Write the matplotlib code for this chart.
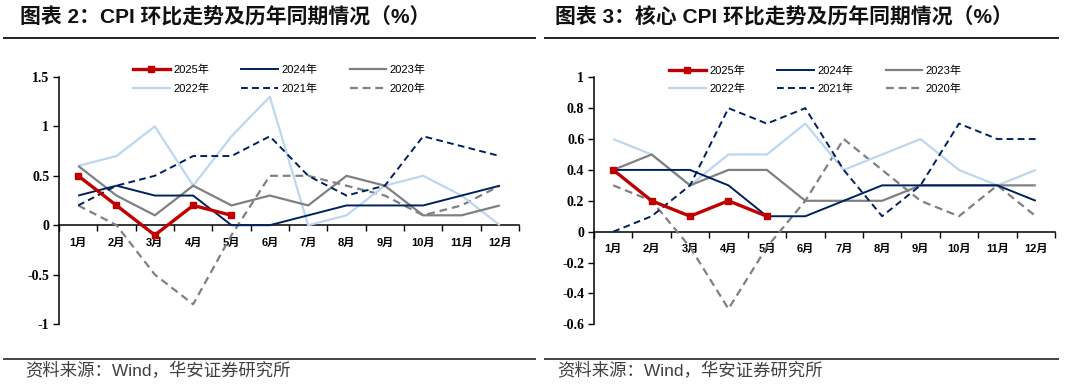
import matplotlib
matplotlib.use("Agg")
import matplotlib.pyplot as plt
from matplotlib.lines import Line2D

plt.rcParams["font.family"] = ["Liberation Sans", "Noto Sans CJK SC"]
plt.rcParams["axes.unicode_minus"] = False

MONTHS = ["1月", "2月", "3月", "4月", "5月", "6月", "7月", "8月", "9月", "10月", "11月", "12月"]
YEARS = ["2025年", "2024年", "2023年", "2022年", "2021年", "2020年"]

# 图表2：CPI 环比
cpi_2025 = [0.5, 0.2, -0.1, 0.2, 0.1]
cpi_2024 = [0.3, 0.4, 0.3, 0.3, 0.0, 0.0, 0.1, 0.2, 0.2, 0.2, 0.3, 0.4]
cpi_2023 = [0.6, 0.3, 0.1, 0.4, 0.2, 0.3, 0.2, 0.5, 0.4, 0.1, 0.1, 0.2]
cpi_2022 = [0.6, 0.7, 1.0, 0.4, 0.9, 1.3, 0.0, 0.1, 0.4, 0.5, 0.3, 0.0]
cpi_2021 = [0.2, 0.4, 0.5, 0.7, 0.7, 0.9, 0.5, 0.3, 0.4, 0.9, 0.8, 0.7]
cpi_2020 = [0.2, 0.0, -0.5, -0.8, -0.1, 0.5, 0.5, 0.4, 0.3, 0.1, 0.2, 0.4]
cpi_yticks = [-1, -0.5, 0, 0.5, 1, 1.5]
cpi_yticklabels = ["-1", "-0.5", "0", "0.5", "1", "1.5"]

# 图表3：核心 CPI 环比
core_2025 = [0.4, 0.2, 0.1, 0.2, 0.1]
core_2024 = [0.4, 0.4, 0.4, 0.3, 0.1, 0.1, 0.2, 0.3, 0.3, 0.3, 0.3, 0.2]
core_2023 = [0.4, 0.5, 0.3, 0.4, 0.4, 0.2, 0.2, 0.2, 0.3, 0.3, 0.3, 0.3]
core_2022 = [0.6, 0.5, 0.3, 0.5, 0.5, 0.7, 0.4, 0.5, 0.6, 0.4, 0.3, 0.4]
core_2021 = [0.0, 0.1, 0.3, 0.8, 0.7, 0.8, 0.4, 0.1, 0.3, 0.7, 0.6, 0.6]
core_2020 = [0.3, 0.2, -0.1, -0.5, -0.1, 0.2, 0.6, 0.4, 0.2, 0.1, 0.3, 0.1]
core_yticks = [-0.6, -0.4, -0.2, 0, 0.2, 0.4, 0.6, 0.8, 1]
core_yticklabels = ["-0.6", "-0.4", "-0.2", "0", "0.2", "0.4", "0.6", "0.8", "1"]

RED = "#C00000"
NAVY = "#002060"
GRAY = "#808080"
LBLUE = "#BDD7EE"

STYLES = {
    "2025年": dict(color=RED, lw=2.4, marker="s", markersize=5, zorder=10),
    "2024年": dict(color=NAVY, lw=1.4, zorder=8),
    "2023年": dict(color=GRAY, lw=1.6, zorder=6),
    "2022年": dict(color=LBLUE, lw=1.6, zorder=5),
    "2021年": dict(color=NAVY, lw=1.4, dashes=(3.5, 2.2), zorder=7),
    "2020年": dict(color=GRAY, lw=1.6, dashes=(3.5, 2.2), zorder=4),
}

fig = plt.figure(figsize=(10.8, 3.85), dpi=100)


def panel(rect, series, ylim, yticks, yticklabels, legend_x):
    ax = fig.add_axes(rect)
    x = list(range(12))
    for name, vals in zip(YEARS, series):
        ax.plot(x[:len(vals)], vals, label=name, solid_capstyle="butt",
                dash_capstyle="butt", **STYLES[name])
    ax.set_xlim(-0.5, 11.5)
    ax.set_ylim(*ylim)
    ax.set_yticks(yticks)
    ax.set_yticklabels(yticklabels, family="Liberation Serif", fontweight="bold", fontsize=10)
    ax.spines["top"].set_visible(False)
    ax.spines["right"].set_visible(False)
    ax.spines["bottom"].set_position(("data", 0))
    ax.spines["left"].set_linewidth(1.1)
    ax.spines["bottom"].set_linewidth(1.1)
    ax.set_xticks(x)
    ax.set_xticklabels(MONTHS, fontsize=8, fontweight="bold")
    ax.set_xticks([i - 0.5 for i in range(13)], minor=True)
    ax.tick_params(axis="x", which="major", length=0, pad=9)
    ax.tick_params(axis="x", which="minor", length=4, width=1, direction="out")
    ax.tick_params(axis="y", length=4, width=1, direction="out", pad=3)
    # legend: row 1 = 2025/2024/2023, row 2 = 2022/2021/2020
    order = ["2025年", "2022年", "2024年", "2021年", "2023年", "2020年"]
    leg_handles = []
    for n in order:
        st = STYLES[n]
        kw = dict(color=st["color"], lw=st["lw"])
        if "marker" in st:
            kw.update(marker="s", markersize=5, markevery=[1])
        if "dashes" in st:
            kw.update(dashes=st["dashes"])
        leg_handles.append(Line2D([0, 0.5, 1], [0, 0, 0], **kw))
    ax.legend(leg_handles, order, ncol=3, loc="center left",
              bbox_to_anchor=(legend_x, 0.99), frameon=False, fontsize=8,
              handlelength=3.3, handletextpad=0.3, columnspacing=2.9,
              labelspacing=0.75, borderpad=0, borderaxespad=0)
    return ax


panel([59 / 1080, 1 - 324 / 385, 460 / 1080, 247 / 385],
      [cpi_2025, cpi_2024, cpi_2023, cpi_2022, cpi_2021, cpi_2020],
      (-1, 1.5), cpi_yticks, cpi_yticklabels, 0.161)
panel([594 / 1080, 1 - 324.3 / 385, 461 / 1080, 247 / 385],
      [core_2025, core_2024, core_2023, core_2022, core_2021, core_2020],
      (-0.6, 1.0), core_yticks, core_yticklabels, 0.163)

# titles, rules, sources
title_font = dict(fontsize=15, fontweight="bold", color="#111111", va="center", ha="left")
fig.text(20 / 1080, 1 - 17 / 385, "图表 2：CPI 环比走势及历年同期情况（%）", **title_font)
fig.text(555 / 1080, 1 - 17 / 385, "图表 3：核心 CPI 环比走势及历年同期情况（%）", **title_font)

for x0, x1 in [(4, 535), (545, 1058)]:
    fig.add_artist(Line2D([x0 / 1080, x1 / 1080], [1 - 38 / 385] * 2, color="#222222", lw=1.4))
    fig.add_artist(Line2D([x0 / 1080, x1 / 1080], [1 - 359 / 385] * 2, color="#444444", lw=1.4))

src_font = dict(fontsize=12.5, color="#404040", va="center", ha="left")
fig.text(25 / 1080, 1 - 371 / 385, "资料来源：Wind，华安证券研究所", **src_font)
fig.text(557 / 1080, 1 - 371 / 385, "资料来源：Wind，华安证券研究所", **src_font)

fig.savefig("out.png", dpi=100)
